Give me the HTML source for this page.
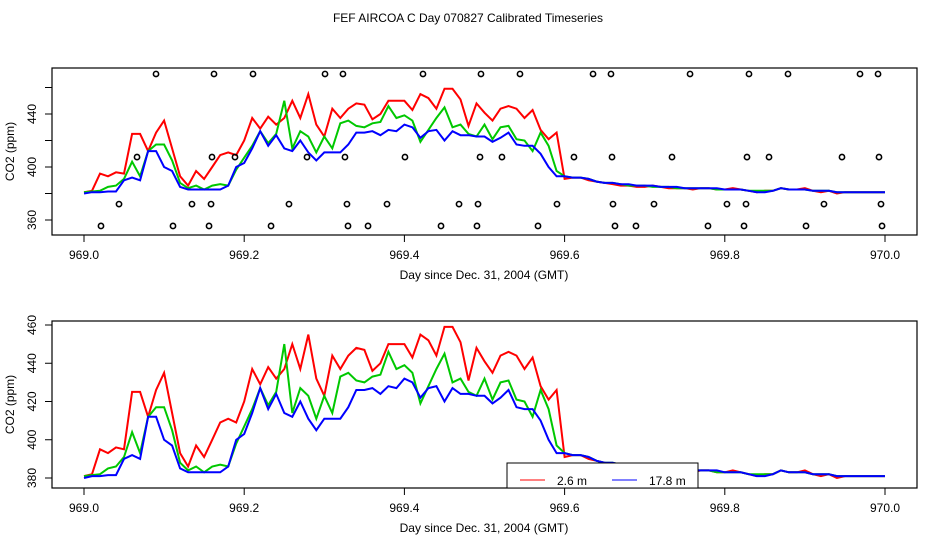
<!DOCTYPE html>
<html><head><meta charset="utf-8"><style>
body{margin:0;background:#fff;}
svg text{font-family:"Liberation Sans",sans-serif;}
</style></head><body>
<svg id="chart" width="936" height="540" viewBox="0 0 936 540" xmlns="http://www.w3.org/2000/svg">
<rect width="936" height="540" fill="#fff"/>
<text x="468" y="22" font-size="12" text-anchor="middle">FEF AIRCOA C  Day 070827  Calibrated Timeseries</text>
<g id="p1"></g>
<g id="p2"></g>
</svg>
<script>
const day0 = 969.0, dayStep = 0.01;
const red = [381,382,395,393,396,395,425,425,412,426,435,414,393,386,397,391,400,409,411,409,420,437,429,438,432,437,450,437,455,432,423,444,437,444,448,447,436,440,450,450,450,443,455,452,444,459,459,451,431,448,441,435,444,446,444,437,443,428,421,426,391,392,392,390,389,388,387,386,386,385,385,386,385,384,384,384,383,384,384,383,383,384,383,382,381,382,382,384,383,383,384,382,381,382,380,381,381,381,381,381,381];
const green = [381,381.5,382,385,386,391,404,393,412,417,417,405,388,384,386,383,386,387,386,398,407,416,427,418,425,450,414,427,423,411,423,414,433,435,431,430,433,434,446,437,439,435,419,428,437,445,430,432,425,423,432,421,430,431,421,420,412,426,416,397,393,392,392,391,389,388,388,387,386,386,386,385,385,385,384,384,384,384,384,383,383,383,383,382,382,382,382,384,383,383,383,382,382,382,381,381,381,381,381,381,381];
const blue = [380,381,381,381.5,381.5,390,392,390,412,412,400,397,385,383,383,383,383,383,386,400,403,414,427,416,424,414,412,420,411,405,411,411,411,417,426,426,427,424,428,427,432,430,422,427,428,420,427,424,424,423,423,419,422,426,417,416,416,410,400,393,393,392,392,391,389,388,388,387,387,386,386,386,385,385,385,384,384,384,384,384,383,383,383,382,381,381,382,384,383,383,383,382,382,382,381,381,381,381,381,381,381];
const flagRowValues = [470.2, 407.5, 372, 355.5];
const flagDays = [
 [969.0899,969.1623,969.211,969.3009,969.3233,969.4232,969.4956,969.5443,969.6355,969.6579,969.7566,969.8302,969.8789,969.9688,969.9913],
 [969.0662,969.1598,969.1885,969.2784,969.3258,969.4007,969.4944,969.5218,969.6117,969.6592,969.7341,969.8277,969.8552,969.9463,969.9925],
 [969.0437,969.1348,969.1586,969.2559,969.3283,969.3783,969.4682,969.4919,969.5905,969.6604,969.7116,969.8027,969.8265,969.9238,969.995],
 [969.0212,969.1111,969.1561,969.2335,969.3296,969.3546,969.4457,969.4906,969.5668,969.6629,969.6891,969.779,969.824,969.9014,969.9963]];
const xTicks = [969.0,969.2,969.4,969.6,969.8,970.0];
const xTickLabels = ["969.0","969.2","969.4","969.6","969.8","970.0"];
const y1Ticks = [360,380,400,420,440,460];
const y1Labels = ["360","","400","","440",""];
const y2Ticks = [380,400,420,440,460];
const y2Labels = ["380","400","420","440","460"];

const NS = "http://www.w3.org/2000/svg";
function mk(parent, tag, attrs){const e=document.createElementNS(NS,tag);for(const k in attrs)e.setAttribute(k,attrs[k]);parent.appendChild(e);return e;}
const xs = d => 84 + 801*(d-969);

function panel(g, top, bottom, ys, yT, yL, flags){
  mk(g,'rect',{x:52,y:top,width:865,height:bottom-top,fill:'none',stroke:'#000','stroke-width':1.2});
  const ax = mk(g,'g',{});
   
  mk(ax,'line',{x1:xs(969),x2:xs(970),y1:bottom,y2:bottom,stroke:'#000'});
  xTicks.forEach((t,i)=>{
    mk(ax,'line',{x1:xs(t),x2:xs(t),y1:bottom,y2:bottom+7,stroke:'#000'});
    const tx=mk(ax,'text',{x:xs(t),y:bottom+24,'font-size':12,'text-anchor':'middle'});
    
    
    tx.textContent=xTickLabels[i];
  });
  const xt=mk(g,'text',{x:484,y:bottom+44,'font-size':12,'text-anchor':'middle'});
  
  
  xt.textContent='Day since Dec. 31, 2004 (GMT)';
  const ay = mk(g,'g',{});
   
  mk(ay,'line',{x1:52,x2:52,y1:ys(yT[0]),y2:ys(yT[yT.length-1]),stroke:'#000'});
  yT.forEach((t,i)=>{
    mk(ay,'line',{x1:45,x2:52,y1:ys(t),y2:ys(t),stroke:'#000'});
    if(yL[i]){const tx=mk(ay,'text',{x:0,y:0,'font-size':12,'text-anchor':'middle',transform:`translate(36,${ys(t)}) rotate(-90)`});
    
    
    tx.textContent=yL[i];}
  });
  const yt=mk(g,'text',{x:0,y:0,'font-size':12,'text-anchor':'middle',transform:`translate(14,${(top+bottom)/2}) rotate(-90)`});
  
  
  yt.textContent='CO2 (ppm)';
  const clip='c'+top;
  const cp=mk(g,'clipPath',{id:clip}); mk(cp,'rect',{x:52,y:top,width:865,height:bottom-top});
  [[red,'#ff0000','series-2.6m'],[green,'#00c800','series-green'],[blue,'#0000ff','series-17.8m']].forEach(([arr,c,n])=>{
    const pts=arr.map((v,i)=>xs(day0+i*dayStep).toFixed(1)+','+ys(v).toFixed(1)).join(' ');
    const p=mk(g,'polyline',{points:pts,fill:'none',stroke:c,'stroke-width':2,'clip-path':`url(#${clip})`});
    
    
  });
  if(flags){
    flagDays.forEach((row,r)=>row.forEach(d=>{
      const c=mk(g,'circle',{cx:xs(d),cy:ys(flagRowValues[r]),r:2.6,fill:'none',stroke:'#000','stroke-width':1.6});
      
      
    }));
  }
}
panel(document.getElementById('p1'),68,235,v=>167-(v-400)*1.325,y1Ticks,y1Labels,true);
const p2=document.getElementById('p2');
panel(p2,321,488,v=>478-(v-380)*1.9125,y2Ticks,y2Labels,false);
const lg=mk(p2,'g',{});


mk(lg,'rect',{x:507,y:463,width:191,height:25,fill:'#fff',stroke:'#000'});
mk(lg,'line',{x1:520,x2:545,y1:480,y2:480,stroke:'#ff0000'});
const t1=mk(lg,'text',{x:557,y:485,'font-size':12}); t1.textContent='2.6 m';


mk(lg,'line',{x1:612,x2:637,y1:480,y2:480,stroke:'#0000ff'});
const t2=mk(lg,'text',{x:649,y:485,'font-size':12}); t2.textContent='17.8 m';


</script>
</body></html>
